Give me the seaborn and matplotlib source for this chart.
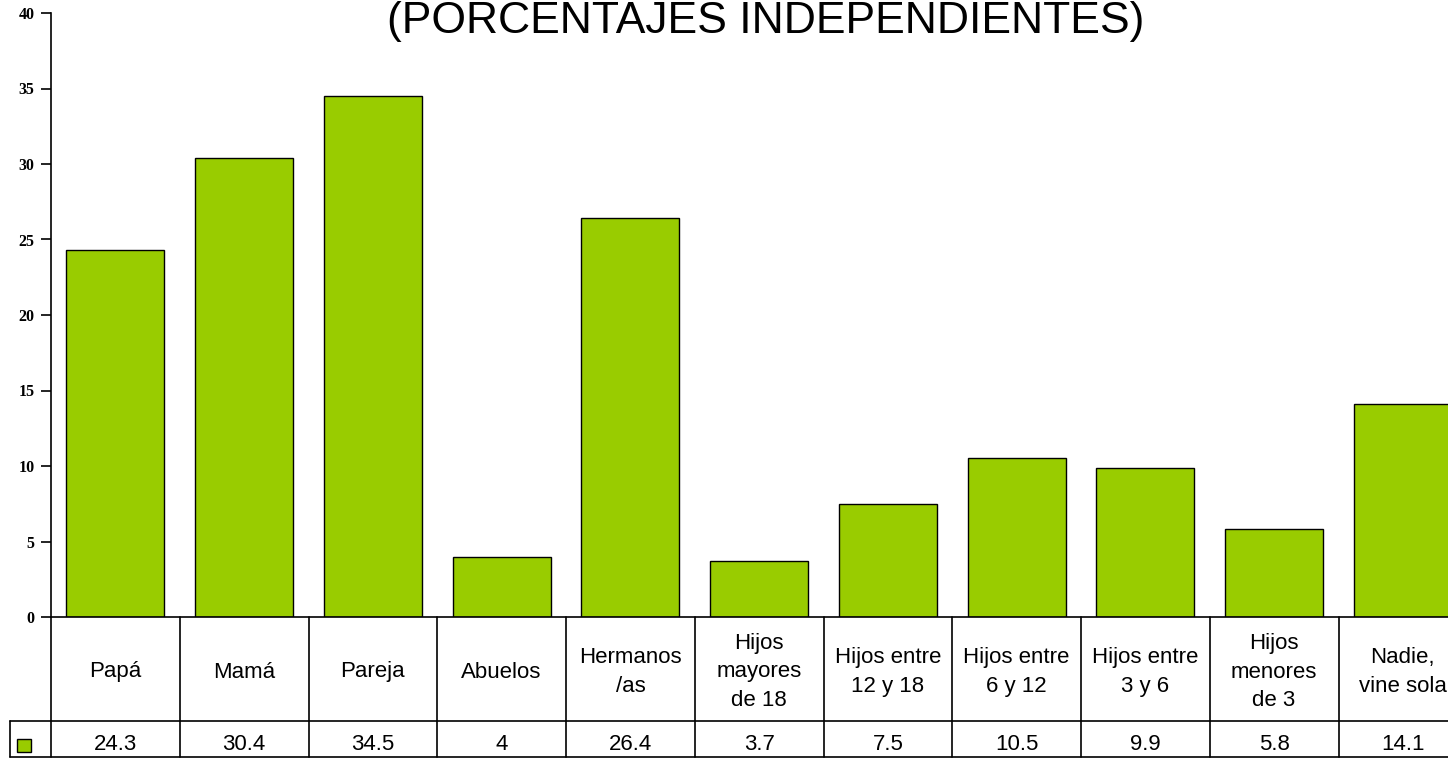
import numpy as np
import pandas as pd
import seaborn as sns
import matplotlib.pyplot as plt

# data
categorias = ["Papá", "Mamá", "Pareja", "Abuelos", "Hermanos\n/as",
              "Hijos\nmayores\nde 18", "Hijos entre\n12 y 18", "Hijos entre\n6 y 12",
              "Hijos entre\n3 y 6", "Hijos\nmenores\nde 3", "Nadie,\nvine sola"]
valores = [24.3, 30.4, 34.5, 4, 26.4, 3.7, 7.5, 10.5, 9.9, 5.8, 14.1]
valores_txt = ["24.3", "30.4", "34.5", "4", "26.4", "3.7", "7.5", "10.5", "9.9", "5.8", "14.1"]
yticks = [0, 5, 10, 15, 20, 25, 30, 35, 40]
titulo = "(PORCENTAJES INDEPENDIENTES)"

verde = "#99CC00"

sns.set_style("white")
plt.rcParams['font.family'] = ['Liberation Sans', 'DejaVu Sans']
plt.rcParams['text.color'] = 'black'
plt.rcParams['ytick.color'] = 'black'

W, H = 1448, 758
fig = plt.figure(figsize=(W/100, H/100), dpi=100)
# axes placed in pixels (right edge runs past the figure, as in the reference)
x0, y_zero, y_top, colw = 51, 617, 13, 128.75
ax = fig.add_axes([x0/W, (H-y_zero)/H, colw*len(categorias)/W, (y_zero-y_top)/H])

df = pd.DataFrame({"cat": categorias, "val": valores})
sns.barplot(data=df, x="cat", y="val", color=verde, saturation=1, width=0.76,
            edgecolor="black", linewidth=1.0, ax=ax)

ax.set_xlim(-0.5, len(categorias)-0.5)
ax.set_ylim(0, 40)
ax.set_yticks(yticks)
ax.set_yticklabels([str(t) for t in yticks], family='Liberation Serif',
                   fontweight='bold', fontsize=11.5, color='black')
ax.tick_params(axis='y', direction='out', length=7, width=1.2, color='black', pad=5, left=True)
ax.tick_params(axis='x', length=0, labelbottom=False)
ax.set_xlabel("")
ax.set_ylabel("")
for s in ['top', 'right', 'bottom']:
    ax.spines[s].set_visible(False)
ax.spines['left'].set_color('black')
ax.spines['left'].set_linewidth(1.2)

# data table under the axes
tr = ax.get_xaxis_transform()
def yax(py):
    return (y_zero - py) / (y_zero - y_top)

r1, r2 = 721, 757
n = len(categorias)
leg_left = -0.5 - (x0 - 10) / colw
lw = 1.2
ax.plot([-0.5, n-0.5], [yax(y_zero)]*2, color='black', lw=lw, transform=tr, clip_on=False)
ax.plot([leg_left, n-0.5], [yax(r1)]*2, color='black', lw=lw, transform=tr, clip_on=False)
ax.plot([leg_left, n-0.5], [yax(r2)]*2, color='black', lw=lw, transform=tr, clip_on=False)
ax.plot([leg_left, leg_left], [yax(r1), yax(r2)], color='black', lw=lw, transform=tr, clip_on=False)
for i in range(n+1):
    ax.plot([i-0.5, i-0.5], [yax(y_zero), yax(r2)], color='black', lw=lw, transform=tr, clip_on=False)

for i, (c, v) in enumerate(zip(categorias, valores_txt)):
    ax.text(i, yax(672), c, transform=tr, ha='center', va='center',
            fontsize=16, linespacing=1.5, clip_on=False)
    ax.text(i, yax(750), v, transform=tr, ha='center', va='baseline',
            fontsize=16, clip_on=False)

# legend key in the table
fig.patches.append(plt.Rectangle((17/W, (H-752)/H), 14/W, 13/H, transform=fig.transFigure,
                                 facecolor=verde, edgecolor='black', lw=1.0))

fig.text(766/W, 1 - 33/H, titulo, ha='center', va='baseline', fontsize=32,
         family=['Liberation Sans Narrow', 'Liberation Sans', 'DejaVu Sans'])

fig.savefig("out.png", dpi=100)
